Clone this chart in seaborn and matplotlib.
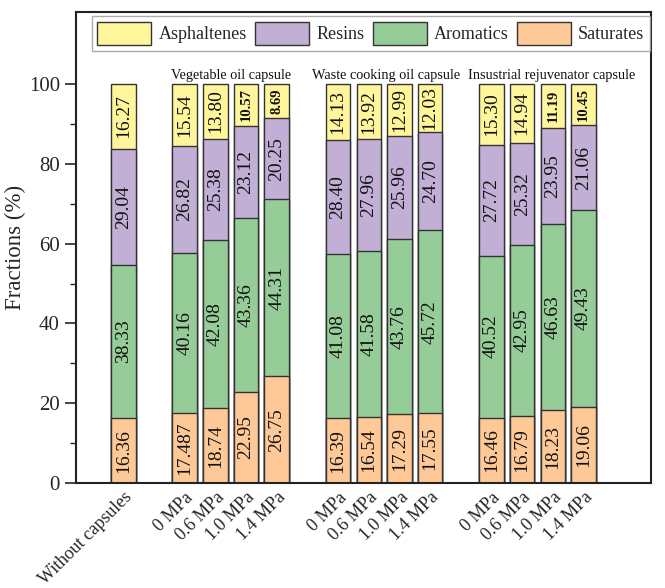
import matplotlib
matplotlib.use("Agg")
import matplotlib.pyplot as plt
import seaborn as sns
import numpy as np
import pandas as pd
from matplotlib.patches import Patch

categories = ["Without capsules",
              "0 MPa", "0.6 MPa", "1.0 MPa", "1.4 MPa",
              "0 MPa", "0.6 MPa", "1.0 MPa", "1.4 MPa",
              "0 MPa", "0.6 MPa", "1.0 MPa", "1.4 MPa"]
positions = [0, 2, 3, 4, 5, 7, 8, 9, 10, 12, 13, 14, 15]
saturates = [16.36, 17.487, 18.74, 22.95, 26.75, 16.39, 16.54, 17.29, 17.55, 16.46, 16.79, 18.23, 19.06]
aromatics = [38.33, 40.16, 42.08, 43.36, 44.31, 41.08, 41.58, 43.76, 45.72, 40.52, 42.95, 46.63, 49.43]
resins = [29.04, 26.82, 25.38, 23.12, 20.25, 28.40, 27.96, 25.96, 24.70, 27.72, 25.32, 23.95, 21.06]
asphaltenes = [16.27, 15.54, 13.80, 10.57, 8.69, 14.13, 13.92, 12.99, 12.03, 15.30, 14.94, 11.19, 10.45]
asph_bold = [False, False, False, True, True, False, False, False, False, False, False, True, True]
sat_labels = ["16.36", "17.487", "18.74", "22.95", "26.75", "16.39", "16.54", "17.29", "17.55", "16.46", "16.79", "18.23", "19.06"]
group_titles = ["Vegetable oil capsule", "Waste cooking oil capsule", "Insustrial rejuvenator capsule"]
group_title_x = [3.5, 8.55, 13.95]
components = ["Asphaltenes", "Resins", "Aromatics", "Saturates"]
colors = {"Saturates": "#FEC996", "Aromatics": "#96CC98", "Resins": "#C1AFD6", "Asphaltenes": "#FFF69C"}

df = pd.DataFrame({"pos": positions, "Saturates": saturates, "Aromatics": aromatics,
                   "Resins": resins, "Asphaltenes": asphaltenes})
df["c_sat"] = df["Saturates"]
df["c_aro"] = df["c_sat"] + df["Aromatics"]
df["c_res"] = df["c_aro"] + df["Resins"]
df["c_asp"] = df["c_res"] + df["Asphaltenes"]

sns.set_style("ticks")
plt.rcParams["font.family"] = ["Liberation Serif", "DejaVu Serif"]

fig = plt.figure(figsize=(6.65, 5.88), dpi=100)
ax = fig.add_axes([0.114, 0.178, 0.865, 0.802])

layers = [("c_asp", "Asphaltenes"), ("c_res", "Resins"), ("c_aro", "Aromatics"), ("c_sat", "Saturates")]
for col, name in layers:
    sns.barplot(data=df, x="pos", y=col, native_scale=True, color=colors[name],
                saturation=1, edgecolor="#333333", linewidth=1.0, width=0.8,
                errorbar=None, ax=ax, zorder=2)

# value labels
for i, p in enumerate(positions):
    bottoms = [0, df["c_sat"][i], df["c_aro"][i], df["c_res"][i]]
    vals = [saturates[i], aromatics[i], resins[i], asphaltenes[i]]
    texts = [sat_labels[i], f"{aromatics[i]:.2f}", f"{resins[i]:.2f}", f"{asphaltenes[i]:.2f}"]
    for k in range(4):
        bold = (k == 3 and asph_bold[i])
        ax.text(p, bottoms[k] + vals[k] / 2, texts[k], rotation=90, ha="center", va="center",
                fontsize=10.5 if bold else 14, fontweight="bold" if bold else "normal",
                color="#111111", zorder=3)

for t, c in zip(group_titles, group_title_x):
    ax.text(c, 101.2, t, ha="center", va="baseline", fontsize=10.3, color="#111111")

ax.set_xlim(-1.55, 17.2)
ax.set_ylim(0, 118)
ax.set_xticks(positions)
ax.set_xticklabels(categories, rotation=45, ha="right", rotation_mode="anchor", fontsize=13)
ax.tick_params(axis="x", length=0, pad=4)
ax.set_yticks([0, 20, 40, 60, 80, 100])
ax.set_yticks([10, 30, 50, 70, 90], minor=True)
ax.tick_params(axis="y", which="major", length=8, width=1.2, labelsize=15, direction="out")
ax.tick_params(axis="y", which="minor", length=4.5, width=1.0, direction="out")
ax.set_xlabel("")
ax.set_ylabel("Fractions (%)", fontsize=16.5, labelpad=2)
for s in ax.spines.values():
    s.set_linewidth(1.5)
    s.set_color("#222222")

handles = [Patch(facecolor=colors[n], edgecolor="#333333", linewidth=1.0, label=n) for n in components]
leg = ax.legend(handles=handles, loc="upper center", bbox_to_anchor=(0.513, 0.99), ncol=4,
                fontsize=13, handlelength=3.0, handleheight=1.6, columnspacing=0.45,
                handletextpad=0.4, frameon=True, fancybox=False, borderpad=0.3,
                borderaxespad=0.0)
leg.get_frame().set_edgecolor("#999999")
leg.get_frame().set_linewidth(1.0)

fig.savefig("out.png", dpi=100)
